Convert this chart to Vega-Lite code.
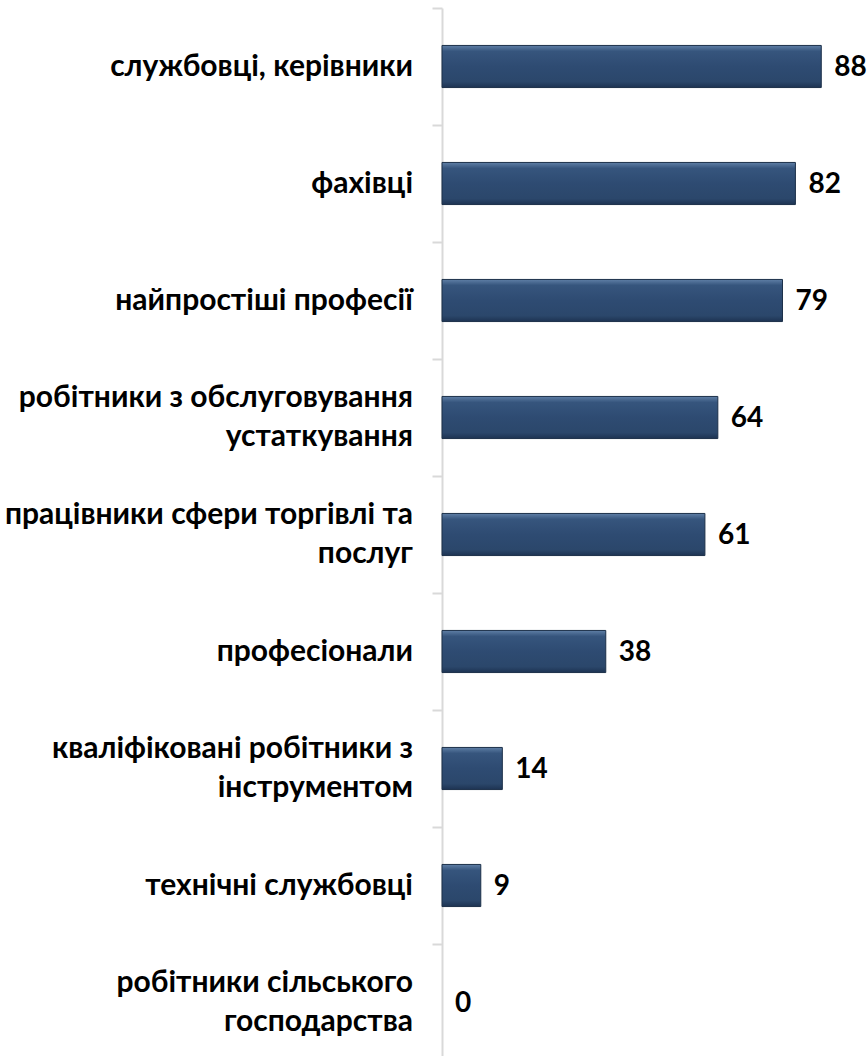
{
  "$schema": "https://vega.github.io/schema/vega-lite/v6.json",
  "autosize": "none",
  "padding": {"left": 442, "top": 8, "right": 0, "bottom": 0},
  "width": 431,
  "height": 1053,
  "background": "white",
  "config": {"view": {"stroke": null}},
  "data": {
    "values": [
      {"label": "службовці, керівники", "value": 88},
      {"label": "фахівці", "value": 82},
      {"label": "найпростіші професії ", "value": 79},
      {"label": "робітники з обслуговування\nустаткування", "value": 64},
      {"label": "працівники сфери торгівлі та\nпослуг", "value": 61},
      {"label": "професіонали", "value": 38},
      {"label": "кваліфіковані робітники з\nінструментом", "value": 14},
      {"label": "технічні службовці", "value": 9},
      {"label": "робітники сільського\nгосподарства", "value": 0}
    ]
  },
  "encoding": {
    "y": {
      "field": "label",
      "type": "nominal",
      "sort": null,
      "scale": {"paddingInner": 0.64, "paddingOuter": 0.32},
      "axis": {
        "title": null,
        "labels": false,
        "domainColor": "#d9d9d9",
        "domainWidth": 2,
        "tickColor": "#d9d9d9",
        "tickWidth": 2,
        "tickSize": 10,
        "tickOffset": -58.5
      }
    },
    "x": {
      "field": "value",
      "type": "quantitative",
      "scale": {"domain": [0, 100]},
      "axis": null
    }
  },
  "layer": [
    {
      "transform": [{"filter": "datum.value > 0"}],
      "mark": {
        "type": "bar",
        "stroke": "#1c3049",
        "strokeWidth": 1,
        "color": {
          "gradient": "linear",
          "x1": 0, "y1": 0, "x2": 0, "y2": 1,
          "stops": [
            {"offset": 0, "color": "#5f7fa6"},
            {"offset": 0.14, "color": "#36557d"},
            {"offset": 0.5, "color": "#2e4b72"},
            {"offset": 0.86, "color": "#2b476b"},
            {"offset": 1, "color": "#1d3352"}
          ]
        }
      }
    },
    {
      "mark": {
        "type": "text",
        "align": "left",
        "baseline": "middle",
        "dx": 13,
        "dy": 1,
        "font": "Lato",
        "fontWeight": "bold",
        "fontSize": 28,
        "color": "#000000"
      },
      "encoding": {"text": {"field": "value", "type": "quantitative"}}
    },
    {
      "transform": [{"filter": "indexof(datum.label, '\\n') < 0"}],
      "mark": {
        "type": "text",
        "align": "right",
        "baseline": "middle",
        "dx": -29,
        "font": "Lato",
        "fontWeight": "bold",
        "fontSize": 30,
        "color": "#000000"
      },
      "encoding": {
        "x": {"datum": 0},
        "text": {"field": "label", "type": "nominal"}
      }
    },
    {
      "transform": [{"filter": "indexof(datum.label, '\\n') >= 0"}],
      "mark": {
        "type": "text",
        "align": "right",
        "baseline": "line-bottom",
        "lineBreak": "\n",
        "lineHeight": 39,
        "dx": -29,
        "font": "Lato",
        "fontWeight": "bold",
        "fontSize": 30,
        "color": "#000000"
      },
      "encoding": {
        "x": {"datum": 0},
        "text": {"field": "label", "type": "nominal"}
      }
    }
  ]
}
